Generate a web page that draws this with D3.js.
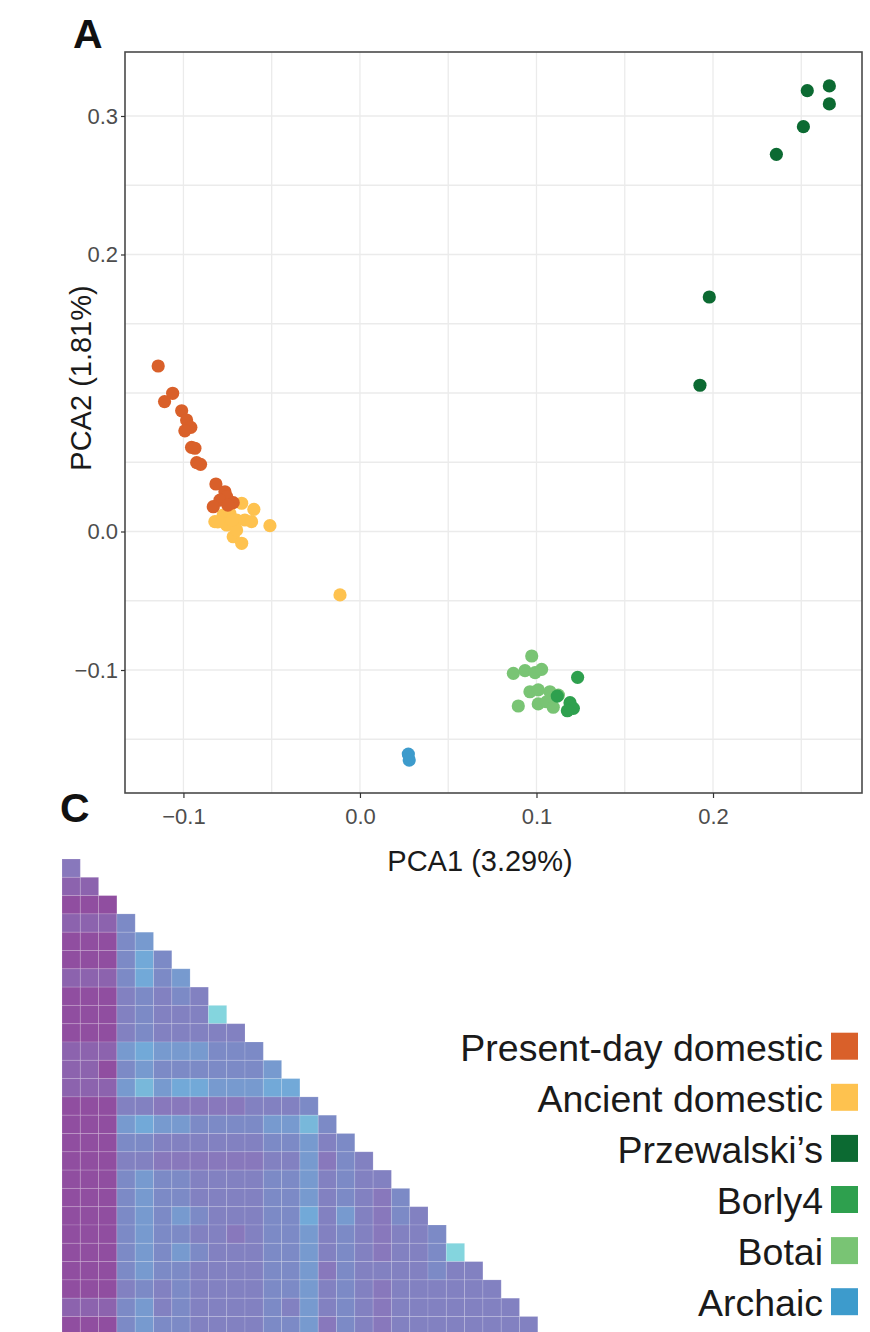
<!DOCTYPE html>
<html><head><meta charset="utf-8">
<script src="https://cdn.jsdelivr.net/npm/d3@7"></script>
<style>body{margin:0;background:#fff} svg{display:block}</style>
</head><body><svg id="c" width="870" height="1332"></svg>
<script>
// ---------- data ----------
const groups = ["Present-day domestic","Ancient domestic","Przewalski\u2019s","Borly4","Botai","Archaic"];
const groupColors = ["#D9602A","#FEC24F","#0C6A32","#2EA04E","#79C474","#3D9BCC"];

const presentDay = [[-0.1143,0.1195],[-0.1061,0.0998],[-0.1107,0.0938],[-0.1010,0.0872],[-0.0982,0.0805],
  [-0.0958,0.0752],[-0.0992,0.0727],[-0.0954,0.0608],[-0.0935,0.0601],[-0.0925,0.0497],[-0.0903,0.0485],
  [-0.0816,0.0343],[-0.0765,0.0287],[-0.0755,0.0251],[-0.0793,0.0227],[-0.0718,0.0208],[-0.0831,0.0179],[-0.0748,0.0191]];
const ancient = [[-0.0670,0.0204],[-0.0601,0.0160],[-0.0510,0.0042],[-0.0822,0.0071],[-0.0775,0.0119],
  [-0.0737,0.0131],[-0.0699,0.0083],[-0.0755,0.0047],[-0.0652,0.0083],[-0.0614,0.0071],[-0.0718,-0.0038],
  [-0.0670,-0.0085],[-0.0699,0.0011],[-0.0725,0.0083],[-0.0805,0.0069],[-0.0113,-0.0458]];
const przewalski = [[0.2534,0.3183],[0.2659,0.3217],[0.2659,0.3087],[0.2512,0.2923],[0.2359,0.2723],
  [0.1979,0.1693],[0.1926,0.1056]];
const borly4 = [[0.1233,-0.1053],[0.1118,-0.1188],[0.1190,-0.1236],[0.1209,-0.1277],[0.1175,-0.1294]];
const botai = [[0.0973,-0.0899],[0.0869,-0.1024],[0.0935,-0.1005],[0.0992,-0.1019],[0.1029,-0.0995],
  [0.0963,-0.1157],[0.1010,-0.1144],[0.1076,-0.1157],[0.1124,-0.1181],[0.0897,-0.1260],[0.1010,-0.1245],
  [0.1058,-0.1229],[0.1095,-0.1269]];
const archaic = [[0.0274,-0.1607],[0.0279,-0.1650]];

const xTicks = [-0.1, 0.0, 0.1, 0.2];
const xTickLabels = ["\u22120.1","0.0","0.1","0.2"];
const yTicks = [0.3, 0.2, 0.0, -0.1];
const yTickLabels = ["0.3","0.2","0.0","\u22120.1"];
const xGrid = [-0.1,-0.05,0,0.05,0.1,0.15,0.2,0.25];
const yGrid = [-0.15,-0.1,-0.05,0,0.05,0.1,0.15,0.2,0.25,0.3];
const xDomain = [-0.1331, 0.2844];
const yDomain = [-0.1888, 0.3462];

// heatmap (lower triangle, row i has i+1 cells)
const heatRows = [
 [7],
 [8,8],
 [9,9,9],
 [8,8,8,5],
 [9,9,9,5,4],
 [9,9,9,5,3,5],
 [8,8,8,5,3,5,4],
 [9,9,9,6,5,6,5,6],
 [9,9,9,6,5,6,6,6,0],
 [9,9,9,6,5,6,6,6,6,6],
 [8,8,8,4,3,4,4,4,5,5,5],
 [8,8,9,5,4,5,5,5,5,5,5,4],
 [8,8,8,4,2,4,3,3,4,4,4,3,3],
 [9,9,9,6,6,7,7,7,7,7,6,6,6,5],
 [9,9,9,4,3,4,4,5,5,5,5,4,4,2,5],
 [9,9,9,5,5,6,6,6,6,6,6,5,5,4,6,5],
 [9,9,9,6,6,7,7,7,7,7,7,6,6,4,7,5,6],
 [9,9,9,5,4,5,5,6,6,6,6,5,5,4,6,5,6,6],
 [9,9,9,5,4,5,5,6,6,6,6,5,5,4,6,5,6,7,5],
 [9,9,9,5,4,5,4,5,6,6,6,5,5,3,6,4,6,7,5,6],
 [9,9,9,5,4,5,5,6,6,7,6,5,5,4,6,5,6,7,6,6,5],
 [9,9,9,5,4,5,4,5,6,6,6,5,5,4,6,5,6,7,6,6,5,0],
 [9,9,9,5,4,5,5,6,6,6,6,5,5,4,7,5,6,6,6,6,5,6,6],
 [9,9,9,6,5,6,5,6,6,6,6,5,5,4,6,5,6,7,6,6,6,6,6,6],
 [8,8,8,5,4,6,5,6,6,6,6,5,6,4,6,5,6,7,6,6,6,6,6,6,6],
 [9,9,9,5,4,5,5,6,6,6,6,5,5,4,7,5,6,7,6,6,6,6,6,6,6,6]
];
const heatStops = [0,3,5,7,9];
const heatColors = ["#84d5de","#72a9d8","#7c8ac6","#8878bc","#904ea0"];

// ---------- drawing ----------
const svg = d3.select("#c");
const FONT = "'Liberation Sans', Arial, Helvetica, sans-serif";
const P = {l:125, t:52, r:862, b:793};

const x = d3.scaleLinear().domain(xDomain).range([P.l, P.r]);
const y = d3.scaleLinear().domain(yDomain).range([P.b, P.t]);

// grid
const g = svg.append("g");
g.selectAll("line.gx").data(xGrid).join("line")
  .attr("x1", d=>x(d)).attr("x2", d=>x(d)).attr("y1", P.t).attr("y2", P.b)
  .attr("stroke", "#ebebeb").attr("stroke-width", 1.3);
g.selectAll("line.gy").data(yGrid).join("line")
  .attr("y1", d=>y(d)).attr("y2", d=>y(d)).attr("x1", P.l).attr("x2", P.r)
  .attr("stroke", "#ebebeb").attr("stroke-width", 1.3);

// points
const series = [
  {pts: ancient, c: groupColors[1]},
  {pts: presentDay, c: groupColors[0]},
  {pts: botai, c: groupColors[4]},
  {pts: borly4, c: groupColors[3]},
  {pts: przewalski, c: groupColors[2]},
  {pts: archaic, c: groupColors[5]}
];
series.forEach(s => {
  svg.append("g").selectAll("circle").data(s.pts).join("circle")
    .attr("cx", d=>x(d[0])).attr("cy", d=>y(d[1])).attr("r", 6.6)
    .attr("fill", s.c);
});

// border
svg.append("rect").attr("x", P.l).attr("y", P.t).attr("width", P.r-P.l).attr("height", P.b-P.t)
  .attr("fill","none").attr("stroke","#4a4a4a").attr("stroke-width",1.6);

// axes
const xa = svg.append("g").attr("transform", `translate(0,${P.b})`)
  .call(d3.axisBottom(x).tickValues(xTicks).tickSize(5).tickPadding(10)
    .tickFormat((d,i)=>xTickLabels[i]));
const ya = svg.append("g").attr("transform", `translate(${P.l},0)`)
  .call(d3.axisLeft(y).tickValues(yTicks).tickSize(4).tickPadding(3)
    .tickFormat((d,i)=>yTickLabels[i]));
[xa, ya].forEach(a => {
  a.select(".domain").remove();
  a.selectAll(".tick line").attr("stroke","#333").attr("stroke-width",1.2);
  a.selectAll(".tick text").attr("fill","#4d4d4d").style("font-family",FONT).style("font-size","22px");
});

// axis titles
svg.append("text").attr("x", 480).attr("y", 871).attr("text-anchor","middle")
  .style("font-family",FONT).style("font-size","29px").attr("fill","#1a1a1a").text("PCA1 (3.29%)");
svg.append("text").attr("transform","translate(91,378) rotate(-90)").attr("text-anchor","middle")
  .style("font-family",FONT).style("font-size","29px").attr("fill","#1a1a1a").text("PCA2 (1.81%)");

// panel letters
svg.append("text").attr("x",73).attr("y",48).style("font-family",FONT).style("font-size","41px")
  .style("font-weight","bold").attr("fill","#111").text("A");
svg.append("text").attr("x",60).attr("y",822).style("font-family",FONT).style("font-size","41px")
  .style("font-weight","bold").attr("fill","#111").text("C");

// heatmap
const nCells = heatRows.length;
const cell = 18.3;
const hx = d3.scaleBand().domain(d3.range(nCells)).range([62, 62 + cell*nCells]);
const hy = d3.scaleBand().domain(d3.range(nCells)).range([859, 859 + cell*nCells]);
const hc = d3.scaleLinear().domain(heatStops).range(heatColors);
const cells = [];
heatRows.forEach((row, i) => row.forEach((v, j) => cells.push({i, j, v})));
svg.append("g").selectAll("rect").data(cells).join("rect")
  .attr("x", d=>hx(d.j)).attr("y", d=>hy(d.i))
  .attr("width", hx.bandwidth()).attr("height", hy.bandwidth())
  .attr("fill", d=>hc(d.v))
  .attr("stroke","#ffffff").attr("stroke-opacity",0.16).attr("stroke-width",0.9);

// legend
const lg = svg.append("g");
groups.forEach((name, i) => {
  const top = 1032.7 + 51.1*i;
  lg.append("rect").attr("x",831).attr("y",top).attr("width",27).attr("height",27)
    .attr("fill", groupColors[i]);
  lg.append("text").attr("x",823).attr("y",top+28).attr("text-anchor","end")
    .style("font-family",FONT).style("font-size","37.5px").attr("fill","#1a1a1a").text(name);
});
</script>
</body></html>
